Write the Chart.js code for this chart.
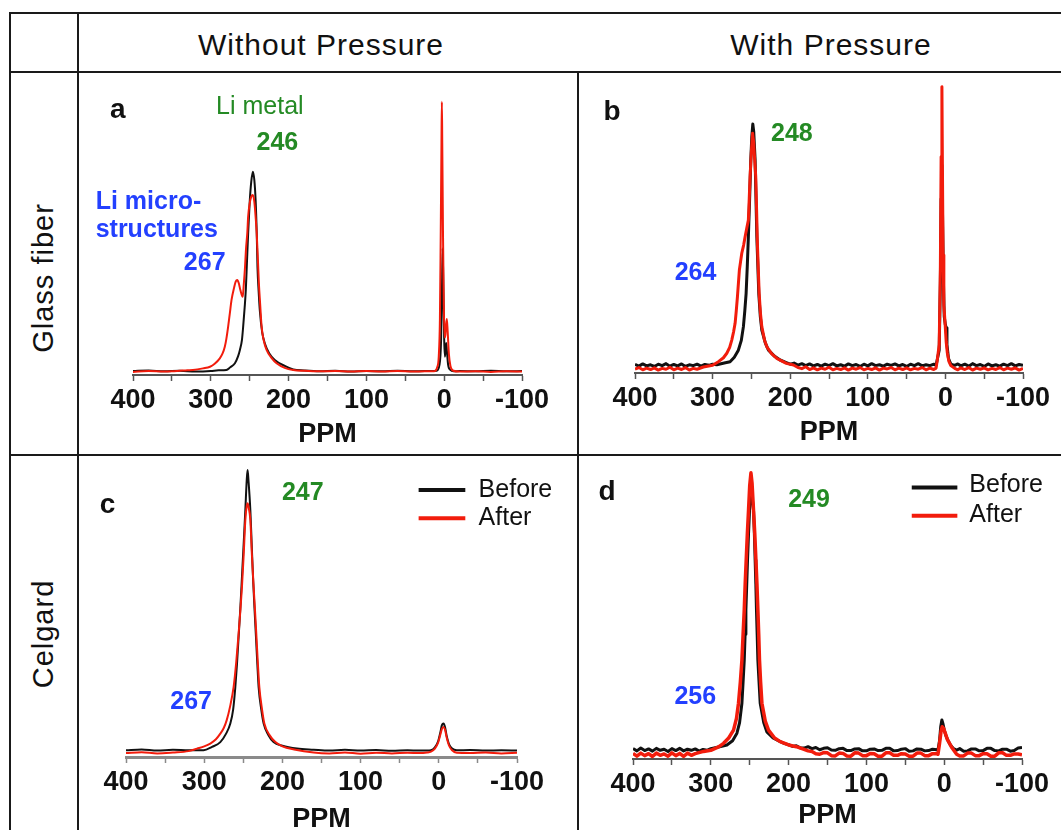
<!DOCTYPE html>
<html>
<head>
<meta charset="utf-8">
<title>Li NMR spectra</title>
<script src="https://cdn.jsdelivr.net/npm/chart.js@4.4.0/dist/chart.umd.min.js"></script>
<style>
body { margin:0; width:1061px; height:830px; overflow:hidden; background:#fff; position:relative;
       font-family:"Liberation Sans", Arial, sans-serif; }
.ln { position:absolute; background:#1a1a1a; }
.hd { position:absolute; font-size:30px; letter-spacing:1px; color:#111; white-space:nowrap;
      transform:translate(-50%,-50%); }
.rw { position:absolute; font-size:29px; letter-spacing:1px; color:#111; white-space:nowrap;
      transform:translate(-50%,-50%) rotate(-90deg); }
canvas { position:absolute; }
</style>
</head>
<body>
<!-- table frame -->
<div class="ln" style="left:9px;top:12px;width:1052px;height:2px"></div>
<div class="ln" style="left:9px;top:71px;width:1052px;height:2px"></div>
<div class="ln" style="left:9px;top:454px;width:1052px;height:2px"></div>
<div class="ln" style="left:9px;top:12px;width:2px;height:818px"></div>
<div class="ln" style="left:77px;top:12px;width:2px;height:818px"></div>
<div class="ln" style="left:577px;top:71px;width:2px;height:759px"></div>

<div class="hd" style="left:321px;top:45px">Without Pressure</div>
<div class="hd" style="left:831px;top:45px">With Pressure</div>
<div class="rw" style="left:43px;top:278px">Glass fiber</div>
<div class="rw" style="left:43px;top:634px">Celgard</div>

<canvas id="pa" width="497" height="380" style="left:80px;top:74px"></canvas>
<canvas id="pb" width="481" height="380" style="left:580px;top:74px"></canvas>
<canvas id="pc" width="497" height="380" style="left:80px;top:458px"></canvas>
<canvas id="pd" width="481" height="380" style="left:580px;top:458px"></canvas>

<script>
// ---------------- data (ppm, relative intensity) ----------------
// a: glass fiber, without pressure
const aBeforePpm = [400,380,360,340,320,300,290,280,275,269,265,262.6,260,258.4,256.5,255,253.5,252,250,248,246,244,242.4,241,240,238.5,237,234,230.5,225,217.8,205,194,180,160,140,120,100,80,60,40,25,15,10,6,4,3,2,1,0,-1,-2.5,-3.5,-5,-8,-12,-20,-40,-60,-80,-100];
const aBeforeInt = [0.6,0.8,0.5,0.7,0.4,0.6,0.9,1.0,2.0,3.5,6,8.4,12,17,24,30.5,41,51.4,63,70.5,74.2,71,63.7,52,39,30,23,15,10.8,7.2,4.7,2.5,1.2,0.8,0.5,0.7,0.4,0.6,0.5,0.7,0.5,0.6,0.6,0.7,3,12,28,45.9,30,12,5.9,11,8,3,1,0.5,0.6,0.5,0.7,0.5,0.6];
const aAfterPpm = [400,380,360,350,340,330,323,310,301,295,288.4,285,282,280,277.7,275.5,273.4,270,268,266,264,262,259,257.5,256,254.9,253,252,250,248,246,244,242,241,239.5,238.2,236.5,234.7,232,228.3,222,215.4,205,194,180,160,140,120,100,80,60,40,25,15,12,9,7,5.5,4.5,3.5,3,2.5,1.5,0.5,-0.5,-1.5,-2.5,-3.4,-4.5,-6,-8,-11,-20,-40,-60,-80,-100];
const aAfterInt = [0.3,0.6,0.4,0.5,0.7,0.9,1.0,1.6,2.2,3.3,5.3,7,9.6,12.5,17,22,26.8,31.5,33.6,34.2,33,30.5,28,33,39,45,52,57.6,62.5,65,65.6,63,56,51.5,42,33,25,17,12,8.4,5.5,3.5,1.8,1,0.7,0.5,0.6,0.4,0.6,0.4,0.6,0.4,0.5,0.5,0.6,2,6,20,50,85,100,85,50,25,13,14,18,19.8,15,7,2.5,0.8,0.4,0.5,0.3,0.5,0.4];

// b: glass fiber, with pressure
const bBeforePpm = [400,395,390,385,380,375,370,365,360,355,350,345,340,335,330,325,320,315,310,305,300,294.6,285,277.5,272,266.8,263,260.3,258.5,256.8,255.3,253.9,252.3,250.8,249.5,248.2,247,245.2,243,240.5,238.5,236.6,232,228,220,213,205,200,195,190,185,180,175,170,165,160,155,150,145,140,135,130,125,120,115,110,105,100,95,90,85,80,75,70,65,60,55,50,45,40,35,30,25,20,15,12,8,6.5,5.5,4.5,3.5,2.5,1.5,0,-1,-2,-4,-7,-12,-16,-20,-25,-30,-35,-40,-45,-50,-55,-60,-65,-70,-75,-80,-85,-90,-95,-100];
const bBeforeInt = [0.9,0.3,1.1,0.4,0.8,0.2,1.0,0.5,1.2,0.3,0.9,0.4,1.1,0.2,0.8,0.5,1.0,0.3,0.9,0.6,1.0,0.8,1.4,1.9,3.5,6,9.5,14.4,20,26.3,36,46.5,60,73.8,82,86.7,84,73.8,46.5,26.3,18,13.2,8.5,6,3.8,2.5,1.6,1.0,1.4,0.7,1.2,0.5,1.1,0.4,0.9,0.3,1.0,0.5,1.2,0.4,0.8,0.3,1.1,0.5,0.9,0.2,1.0,0.4,1.2,0.5,0.8,0.3,1.0,0.6,1.1,0.4,0.9,0.2,1.0,0.5,1.2,0.4,0.8,0.5,1.0,0.6,6,30,60,72,50,30,18,15,14,8,3,1,0.6,1.1,0.4,1.0,0.3,1.2,0.5,0.9,0.2,1.1,0.4,0.8,0.3,1.0,0.5,1.2,0.4,0.9,0.6];
const bAfterPpm = [400,395,390,385,380,375,370,365,360,355,350,345,340,335,330,325,320,311.9,300,292.5,286,281.7,278,275.3,273,271,269.5,268,266.7,265.5,264,262.4,260,258.1,256,253.9,252.8,251.7,250,248.5,247,246,244.4,243.3,242.3,241,240,238.3,236.6,233,230.1,224,217.3,205,195.8,190,185,180,175,170,165,160,155,150,145,140,135,130,125,120,115,110,105,100,95,90,85,80,75,70,65,60,55,50,45,40,35,30,25,20,15,12,10.7,8,6.5,5.5,4.5,3.8,3,2,1.2,0.3,-1,-2.5,-4.5,-7,-12,-16,-20,-25,-30,-35,-40,-45,-50,-55,-60,-65,-70,-75,-80,-85,-90,-95,-100];
const bAfterInt = [-0.8,-0.2,-1.0,-0.4,-0.9,-0.3,-1.1,-0.5,-0.8,-0.1,-1.0,-0.4,-0.9,-0.2,-1.1,-0.5,-0.8,0,0.6,1.9,3.3,4.9,7,9.6,12.5,15.6,20,25,30,34.6,37.5,40.6,43.5,46.5,49.5,52.4,60,67.9,77,83.4,80,75,67.9,56,44.2,34,26.3,19,14.4,9.5,7.2,4.8,3.1,1.3,0.7,-0.2,-0.6,0.1,-0.9,-0.3,-1.0,-0.4,-0.8,-0.1,-1.0,-0.5,-0.9,-0.3,-1.1,-0.4,-0.8,-0.2,-1.0,-0.5,-0.9,-0.3,-1.1,-0.4,-0.7,-0.2,-1.0,-0.4,-0.9,-0.3,-1.0,-0.5,-0.8,-0.2,-1.0,-0.4,-0.9,-0.4,2,8,35,75,100,70,40,22,19,15,9,5,2,0.5,-0.5,-1.0,-0.3,-0.9,-0.2,-1.1,-0.4,-0.8,-0.3,-1.0,-0.5,-0.9,-0.2,-1.0,-0.4,-0.8,-0.3,-1.1,-0.5];

// c: celgard, without pressure
const cBeforePpm = [400,380,360,340,320,300.8,290,279.4,272,266.6,263,260.2,258,256,253.8,251.7,249.5,247.4,245.5,244.5,243.3,241,239.3,237.6,235.7,233.8,232,230.4,227,224,218,211.3,200,181.3,160,140,120,100,80,60,40,25,15,10,5,1,-2,-4,-6,-8,-10,-13,-17,-23,-40,-60,-80,-100];
const cBeforeInt = [0.6,0.9,0.5,0.8,0.6,0.6,1.8,3.5,6.5,10.1,15,23,31.5,40.8,51,62.1,74,85.8,97,100,96,85.8,74,62.1,51,40.8,31,23,15,10.1,6,3.5,2.2,1.2,0.8,0.5,0.8,0.5,0.7,0.4,0.6,0.5,0.5,0.6,1.6,3.7,7,9.5,10.1,8.8,5.8,2.8,1.2,0.6,0.7,0.5,0.6,0.5];
const cAfterPpm = [400,380,360,340,320,309.2,300,292.2,285,279.4,275,271.2,267,262.4,259,256,253.8,251.7,249.5,247.4,245.5,244.5,243.3,241,239,236.8,235,233.4,231.5,229.5,226,223.1,216,209,200,185,160,140,120,100,80,60,40,25,15,10,5,1,-2,-4,-6,-8,-10,-13,-17,-23,-40,-60,-80,-100];
const cAfterInt = [-0.4,-0.1,-0.5,-0.2,0.3,1.2,2,3,4.5,6.5,8.5,11.3,16,23,32,42,50,58.6,70,82.3,87.5,88.2,87,82.3,70,58.6,50,42,32,23,15,10.1,5.8,3.5,2.0,0.9,-0.2,-0.5,-0.2,-0.6,-0.3,-0.5,-0.3,-0.4,-0.2,0.1,1.2,3.2,6.2,8.2,8.9,7.9,5.2,2.3,0.6,-0.3,-0.4,-0.2,-0.5,-0.3];

// d: celgard, with pressure
const dBeforePpm = [400,395,390,385,380,375,370,365,360,355,350,345,340,335,330,325,320,315,310,305,300,290,279.3,272,266.4,263,260,258.5,257,255.9,254.9,253.8,252.8,251.5,250.2,249,248.4,247.3,245.1,244,243,242.1,241.3,240.4,239.5,238,236.5,232,228,220,210.8,205,200,195,190,185,180,175,170,165,160,155,150,145,140,135,130,125,120,115,110,105,100,95,90,85,80,75,70,65,60,55,50,45,40,35,30,25,20,15,12,8,6,4.5,3,1.5,0,-2,-5,-8,-12,-16,-20,-25,-30,-35,-40,-45,-50,-55,-60,-65,-70,-75,-80,-85,-90,-95,-100];
const dBeforeInt = [1.2,0.4,1.4,0.5,1.1,0.3,1.3,0.6,1.0,0.2,1.2,0.5,1.3,0.4,1.0,0.6,1.1,0.3,0.9,0.6,1.2,1.8,2.5,4,6.7,10.5,17.4,25,32.8,42,50.7,60,68.5,78,86.3,92,94,92,86.3,78,68.5,60,50.7,42,32.8,25,17.4,10.5,7.2,5,3.7,3.0,2.6,2.0,2.2,1.5,1.4,1.9,1.2,1.6,0.8,1.3,1.5,0.7,0.6,1.2,1.3,0.5,0.5,1.1,1.2,0.4,0.4,1.0,1.1,0.5,0.6,1.3,1.3,0.4,0.5,1.0,1.2,0.3,0.4,1.1,1.0,0.4,0.5,1.0,0.9,0.7,4,9,11.4,10,8,6,4,2.5,1.2,0.7,1.2,0.3,0.4,1.1,1.1,0.4,0.5,1.3,1.3,0.5,0.4,1.0,1.0,0.3,0.5,1.4,1.6,0.8];
const dAfterPpm = [400,395,390,385,380,375,370,365,360,355,350,345,340,335,330,325,320,309.3,300,290,283.6,277,270.8,267,264.4,262,260,258.5,257,255.8,254.5,253,251.5,250,248.4,247,245.1,243.5,242,240.7,239.5,238.4,237.4,236,234.3,230,225.8,218,210.8,200,190,181,175,170,165,160,155,150,145,140,135,130,125,120,115,110,105,100,95,90,85,80,75,70,65,60,55,50,45,40,35,30,25,20,15,10,8,6,4,2.5,1,-1,-4,-7,-10,-16,-20,-25,-30,-35,-40,-45,-50,-55,-60,-65,-70,-75,-80,-85,-90,-95,-100];
const dAfterInt = [-0.5,-1.5,-0.4,-1.3,-0.6,-1.6,-0.4,-1.2,-0.7,-1.5,-0.3,-1.3,-0.5,-1.6,-0.4,-1.2,-0.6,0.2,0.6,1.8,3.1,5,7.8,12,17.4,25,32.8,42,50.7,60,68.5,78,86.3,95,99.6,96,86.3,78,68.5,60,50.7,42,32.8,25,17.4,11,7.8,5,3.7,2.5,1.9,1.0,0.4,0.2,-0.6,-0.8,-0.2,-0.3,-1.3,-1.4,-0.4,-0.5,-1.4,-1.5,-0.3,-0.4,-1.3,-1.3,-0.5,-0.6,-1.5,-1.5,-0.3,-0.3,-1.2,-1.2,-0.6,-0.7,-1.5,-1.5,-0.4,-0.4,-1.3,-1.3,-0.6,-0.6,-0.8,3,7.5,9,8.5,7,4.5,3,1.5,-0.8,-1.4,-1.4,-0.4,-0.4,-1.3,-1.3,-0.6,-0.6,-1.5,-1.5,-0.3,-0.3,-1.2,-1.2,-0.7,-0.7,-1.0];

const seriesNames = ['Before', 'After'];
const xTicks = [400, 300, 200, 100, 0, -100];

// ---------------- styling ----------------
const FONT = '"Liberation Sans", Arial, sans-serif';
const BLACK = '#111111';
const RED = '#f21c0c';
const GREEN = '#248a24';
const BLUE = '#2340ff';

function pts(xs, ys) {
    return xs.map((x, i) => ({ x: x, y: ys[i] }));
}

// labels and legend drawn in data coordinates
const notesPlugin = {
    id: 'notes',
    afterDatasetsDraw(chart, args, opts) {
        const ctx = chart.ctx, sx = chart.scales.x, sy = chart.scales.y;
        ctx.save();
        (opts.lines || []).forEach(l => {
            ctx.strokeStyle = l.color;
            ctx.lineWidth = 4;
            ctx.beginPath();
            ctx.moveTo(sx.getPixelForValue(l.x0), sy.getPixelForValue(l.y));
            ctx.lineTo(sx.getPixelForValue(l.x1), sy.getPixelForValue(l.y));
            ctx.stroke();
        });
        (opts.texts || []).forEach(t => {
            ctx.font = t.font;
            ctx.fillStyle = t.color;
            ctx.textAlign = t.align || 'center';
            ctx.textBaseline = 'middle';
            ctx.fillText(t.text, sx.getPixelForValue(t.x), sy.getPixelForValue(t.y));
        });
        ctx.restore();
    }
};
Chart.register(notesPlugin);

function legendNotes(x0, x1, xt, yB, yA, yBt, yAt) {
    return {
        lines: [
            { x0: x0, x1: x1, y: yB, color: BLACK },
            { x0: x0, x1: x1, y: yA, color: RED }
        ],
        texts: [
            { text: seriesNames[0], x: xt, y: yBt, align: 'left', color: BLACK, font: '25px ' + FONT },
            { text: seriesNames[1], x: xt, y: yAt, align: 'left', color: BLACK, font: '25px ' + FONT }
        ]
    };
}

function panel(id, p) {
    // red (After) is drawn over black (Before)
    const before = {
        label: seriesNames[0], data: p.before, borderColor: BLACK, borderWidth: p.lwBefore || p.lw, order: 1
    };
    const after = {
        label: seriesNames[1], data: p.after, borderColor: RED, borderWidth: p.lw, order: 0
    };
    const leg = p.legend || { lines: [], texts: [] };
    new Chart(document.getElementById(id), {
        type: 'line',
        data: { datasets: [before, after] },
        options: {
            responsive: false,
            animation: false,
            layout: { padding: p.pad },
            elements: {
                point: { radius: 0 },
                line: p.noisy
                    ? { tension: 0, borderJoinStyle: 'round' }
                    : { cubicInterpolationMode: 'monotone', borderCapStyle: 'round', borderJoinStyle: 'round' }
            },
            plugins: {
                legend: { display: false },
                tooltip: { enabled: false },
                notes: { lines: leg.lines, texts: p.texts.concat(leg.texts) }
            },
            scales: {
                x: {
                    type: 'linear', reverse: true, min: -100, max: 400,
                    afterFit: s => { s.height = p.axisH; },
                    border: { display: true, color: p.axisColor, width: p.axisW },
                    grid: { drawOnChartArea: false, drawTicks: true, tickLength: 6, tickWidth: 1.5, color: p.axisColor },
                    ticks: {
                        stepSize: 50, autoSkip: false, maxRotation: 0, padding: 3, color: BLACK,
                        font: { family: FONT, size: 27, weight: 'bold' },
                        callback: v => xTicks.includes(v) ? String(v) : ''
                    },
                    title: {
                        display: true, text: 'PPM', color: BLACK,
                        font: { family: FONT, size: 27, weight: 'bold' },
                        padding: { top: 0, bottom: p.titlePad }
                    }
                },
                y: { display: false, min: p.yMin, max: p.yMax }
            }
        }
    });
}

const bold25 = 'bold 25px ' + FONT;
const bold28 = 'bold 28px ' + FONT;

panel('pa', {
    before: pts(aBeforePpm, aBeforeInt), after: pts(aAfterPpm, aAfterInt),
    yMin: -0.85, yMax: 102.5, lw: 2, axisH: 79, titlePad: 3,
    pad: { left: 53, right: 55, top: 21, bottom: 0 },
    axisColor: '#555', axisW: 2,
    texts: [
        { text: 'a', x: 419.7, y: 96.9, color: BLACK, font: bold28 },
        { text: 'Li metal', x: 236.9, y: 98, color: GREEN, font: '25px ' + FONT },
        { text: '246', x: 214.4, y: 84.6, color: GREEN, font: bold25 },
        { text: 'Li micro-', x: 448, y: 63.1, align: 'left', color: BLUE, font: bold25 },
        { text: 'structures', x: 448, y: 52.7, align: 'left', color: BLUE, font: bold25 },
        { text: '267', x: 281, y: 40.6, align: 'right', color: BLUE, font: bold25 }
    ]
});

panel('pb', {
    before: pts(bBeforePpm, bBeforeInt), after: pts(bAfterPpm, bAfterInt),
    yMin: -2.14, yMax: 102.4, lw: 3, axisH: 81, titlePad: 5, noisy: true,
    pad: { left: 55, right: 38, top: 6, bottom: 0 },
    axisColor: '#555', axisW: 2,
    texts: [
        { text: 'b', x: 429.7, y: 91, color: BLACK, font: bold28 },
        { text: '248', x: 197.9, y: 83, color: GREEN, font: bold25 },
        { text: '264', x: 322, y: 33.4, color: BLUE, font: bold25 }
    ]
});

panel('pc', {
    before: pts(cBeforePpm, cBeforeInt), after: pts(cAfterPpm, cAfterInt),
    yMin: -1.78, yMax: 101.8, lw: 2, axisH: 81, titlePad: 2,
    pad: { left: 46, right: 60, top: 7, bottom: 0 },
    axisColor: '#8a8a8a', axisW: 3,
    texts: [
        { text: 'c', x: 423.5, y: 87.6, color: BLACK, font: bold28 },
        { text: '247', x: 173.9, y: 91.7, color: GREEN, font: bold25 },
        { text: '267', x: 316.7, y: 17.7, color: BLUE, font: bold25 }
    ],
    legend: legendNotes(25.8, -33.9, -50.9, 92.9, 82.9, 92.9, 83.1)
});

panel('pd', {
    before: pts(dBeforePpm, dBeforeInt), after: pts(dAfterPpm, dAfterInt),
    yMin: -2.5, yMax: 102.4, lw: 3.5, lwBefore: 3, axisH: 79, titlePad: 6, noisy: true,
    pad: { left: 53, right: 39, top: 7, bottom: 0 },
    axisColor: '#555', axisW: 2,
    texts: [
        { text: 'd', x: 433.4, y: 92.7, color: BLACK, font: bold28 },
        { text: '249', x: 173.8, y: 89.7, color: GREEN, font: bold25 },
        { text: '256', x: 320, y: 19.7, color: BLUE, font: bold25 }
    ],
    legend: legendNotes(41.7, -16.9, -32.3, 94.4, 84.3, 95.3, 84.6)
});
</script>
</body>
</html>
